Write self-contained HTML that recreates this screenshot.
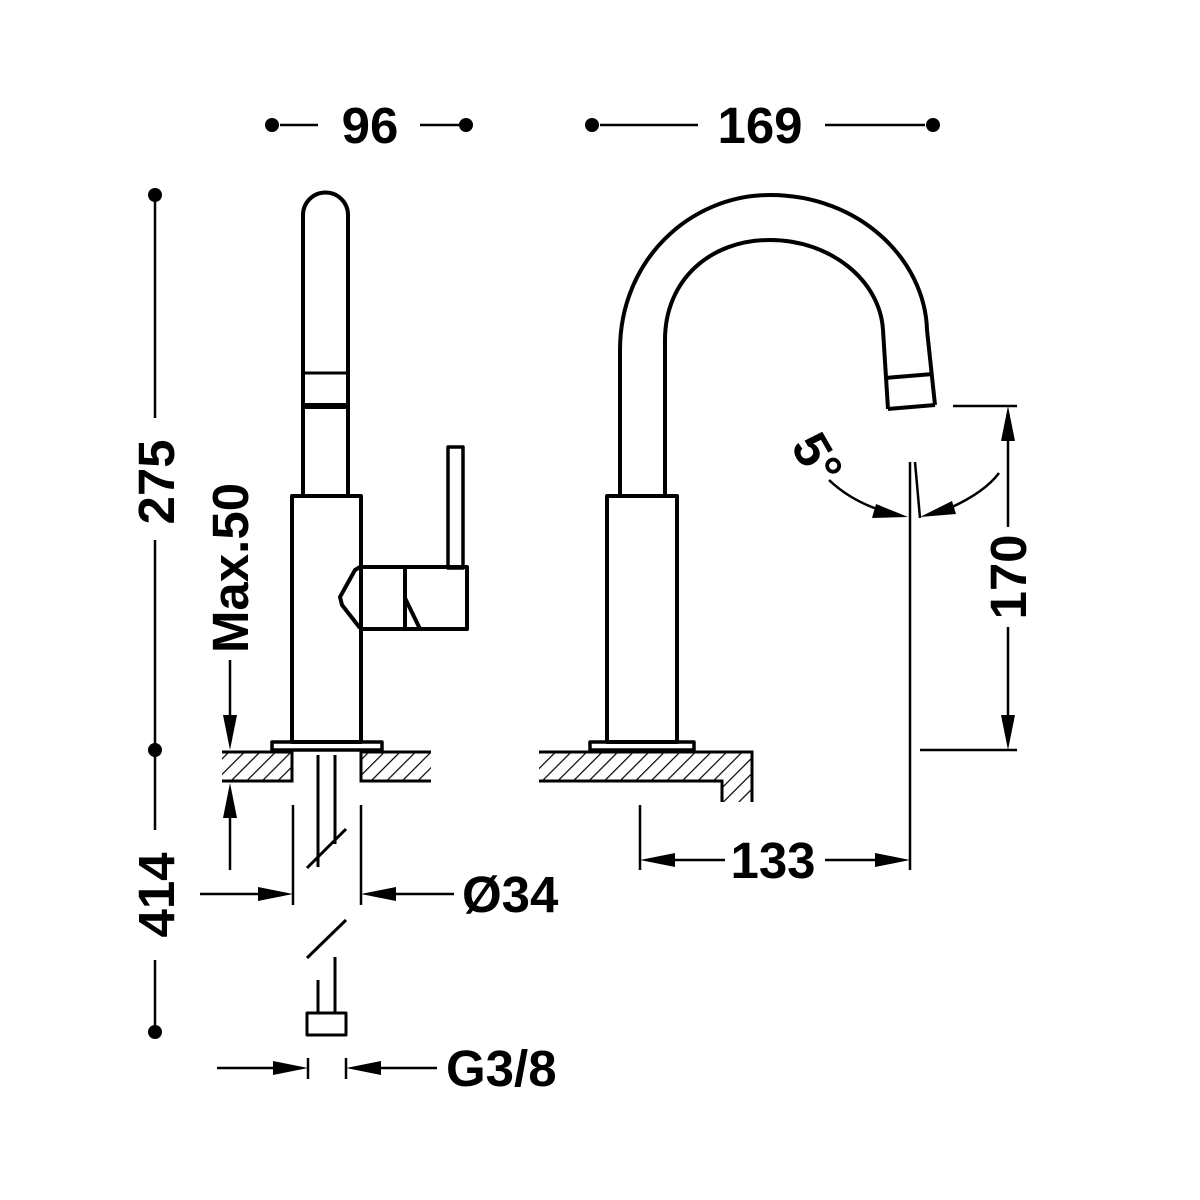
<!DOCTYPE html>
<html><head><meta charset="utf-8"><style>
html,body{margin:0;padding:0;background:#fff;}
svg{display:block;}
text{font-family:"Liberation Sans",Arial,sans-serif;font-weight:bold;fill:#000;}
</style></head><body>
<svg width="1200" height="1200" viewBox="0 0 1200 1200" xmlns="http://www.w3.org/2000/svg">
<defs>
<pattern id="h" patternUnits="userSpaceOnUse" width="11" height="11" patternTransform="rotate(45)">
<line x1="0" y1="0" x2="0" y2="11" stroke="#000" stroke-width="2.4"/>
</pattern>
</defs>
<g stroke="#000" fill="none" stroke-width="4" stroke-linejoin="round">
<path d="M303,496 V215 A22.5,22.5 0 0 1 348,215 V496"/>
<line x1="303" y1="373" x2="348" y2="373" stroke-width="3"/>
<line x1="303" y1="406" x2="348" y2="406" stroke-width="6"/>
<rect x="292" y="496" width="69" height="246"/>
<rect x="448" y="447" width="15" height="121" stroke-width="3.5"/>
<path d="M360,567 H467 V629 H360"/>
<path d="M360,567 L355,570 L340,597 L342,605 L360,628"/>
<line x1="405" y1="567" x2="405" y2="629"/>
<path d="M405,598 L420,629"/>
<rect x="272" y="742" width="110" height="8" stroke-width="3.5"/>
<path d="M620,496 V350 C620,260 690,195 770,195 C860,195 925,260 927,330 L935,405"/>
<path d="M665,496 V340 C665,280 710,240 770,240 C830,240 880,280 883,330 L888,409"/>
<path d="M885,378 L933,374"/>
<path d="M888,409 L935,405"/>
<rect x="607" y="496" width="70" height="246"/>
<rect x="590" y="742" width="104" height="8" stroke-width="3.5"/>
<path d="M318,755 V867 M335,755 V844 M307,868 L346,829" stroke-width="3"/>
<path d="M318,1013 V980 M335,1013 V957 M307,958 L346,920" stroke-width="3"/>
<rect x="307" y="1013" width="39" height="22" stroke-width="3"/>
</g>
<g stroke="#000" stroke-width="3">
<rect x="222" y="752" width="70" height="29" fill="url(#h)" stroke="none"/>
<path d="M222,752 H292 V781 H222" fill="none"/>
<rect x="361" y="752" width="70" height="29" fill="url(#h)" stroke="none"/>
<path d="M431,752 H361 V781 H431" fill="none"/>
<path d="M539,752 H752 V802 H722 V781 H539 Z" fill="url(#h)" stroke="none"/>
<path d="M539,752 H752 V802 M722,802 V781 H539" fill="none"/>
</g>
<g stroke="#000" stroke-width="2.5" fill="none">
<line x1="280" y1="125" x2="318" y2="125"/><line x1="420" y1="125" x2="462" y2="125"/>
<line x1="600" y1="125" x2="698" y2="125"/><line x1="825" y1="125" x2="925" y2="125"/>
<line x1="155" y1="195" x2="155" y2="418"/><line x1="155" y1="540" x2="155" y2="750"/>
<line x1="155" y1="750" x2="155" y2="830"/><line x1="155" y1="960" x2="155" y2="1032"/>
<line x1="230" y1="660" x2="230" y2="720"/><line x1="230" y1="810" x2="230" y2="870"/>
<line x1="293" y1="805" x2="293" y2="905"/><line x1="361" y1="805" x2="361" y2="905"/>
<line x1="200" y1="894" x2="260" y2="894"/><line x1="395" y1="894" x2="454" y2="894"/>
<line x1="308" y1="1058" x2="308" y2="1079"/><line x1="346" y1="1058" x2="346" y2="1079"/>
<line x1="217" y1="1068" x2="275" y2="1068"/><line x1="380" y1="1068" x2="437" y2="1068"/>
<line x1="640" y1="805" x2="640" y2="870"/>
<line x1="675" y1="860" x2="725" y2="860"/><line x1="825" y1="860" x2="875" y2="860"/>
<line x1="910" y1="462" x2="910" y2="870"/><line x1="915" y1="462" x2="920" y2="518"/>
<line x1="953" y1="406" x2="1017" y2="406"/><line x1="920" y1="750" x2="1017" y2="750"/>
<line x1="1008" y1="440" x2="1008" y2="527"/><line x1="1008" y1="627" x2="1008" y2="715"/>
<path d="M829,480 Q850,500 880,510"/>
<path d="M999,473 Q985,492 950,508"/>
</g>
<g fill="#000">
<circle cx="272" cy="125" r="7"/><circle cx="466" cy="125" r="7"/>
<circle cx="592" cy="125" r="7"/><circle cx="933" cy="125" r="7"/>
<circle cx="155" cy="195" r="7"/><circle cx="155" cy="750" r="7"/><circle cx="155" cy="1032" r="7"/>
<path d="M230,750 L223,715 L237,715 Z"/>
<path d="M230,783 L223,818 L237,818 Z"/>
<path d="M293,894 L258,887 L258,901 Z"/>
<path d="M361,894 L396,887 L396,901 Z"/>
<path d="M308,1068 L273,1061 L273,1075 Z"/>
<path d="M346,1068 L381,1061 L381,1075 Z"/>
<path d="M640,860 L675,853 L675,867 Z"/>
<path d="M910,860 L875,853 L875,867 Z"/>
<path d="M1008,406 L1001,441 L1015,441 Z"/>
<path d="M1008,750 L1001,715 L1015,715 Z"/>
<path d="M908,517 L876,504 L872,518 Z"/>
<path d="M920,517 L952,501 L956,514 Z"/>
</g>
<g font-size="51">
<text x="370" y="143" text-anchor="middle">96</text>
<text x="760" y="143" text-anchor="middle">169</text>
<text transform="translate(174,482) rotate(-90)" text-anchor="middle">275</text>
<text transform="translate(174,895) rotate(-90)" text-anchor="middle">414</text>
<text transform="translate(248,568) rotate(-90)" text-anchor="middle">Max.50</text>
<text transform="translate(1026,577) rotate(-90)" text-anchor="middle">170</text>
<text x="773" y="878" text-anchor="middle">133</text>
<text x="462" y="912">Ø34</text>
<text x="446" y="1086">G3/8</text>
<text transform="translate(790,446) rotate(60)">5°</text>
</g>
</svg>
</body></html>
